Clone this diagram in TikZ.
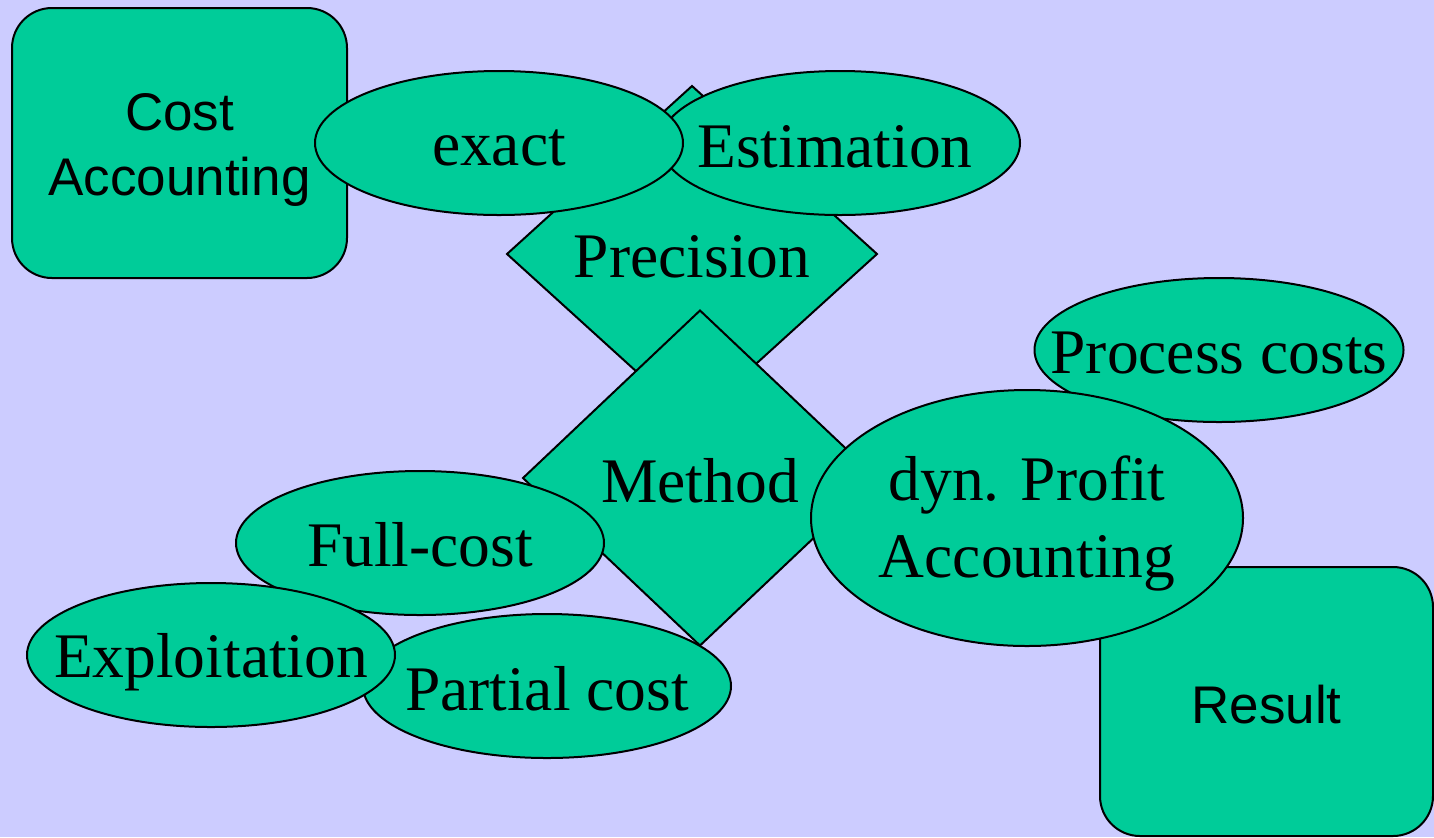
\documentclass[tikz,border=0pt]{standalone}
\usepackage{fontspec}
\setmainfont{Liberation Serif}
\setsansfont{Liberation Sans}
\usetikzlibrary{shapes.geometric}
\definecolor{bgc}{HTML}{CCCCFF}
\definecolor{grn}{HTML}{00CC99}
\newcommand{\T}[2][-2.5pt]{\makebox[0pt]{\raisebox{#1}[\height][\depth]{#2}}}
\newcommand{\TT}[3][-2.5pt]{\makebox[0pt]{\raisebox{#1}[\height][\depth]{\begin{tabular}{@{}c@{}}#2\\#3\end{tabular}}}}
\begin{document}
\begin{tikzpicture}[x=0.5pt,y=-0.5pt,
  base/.style={draw=black, fill=grn, line width=1pt, inner sep=0pt, outer sep=0pt, align=center},
  oval/.style={base, ellipse, font=\fontsize{31.75}{38.5}\selectfont},
  dia/.style={base, diamond, font=\fontsize{31.75}{38.5}\selectfont},
  box/.style={base, rectangle, rounded corners=20pt, font=\sffamily\fontsize{26.5}{32.5}\selectfont}]
\fill[bgc] (0,0) rectangle (1434,837);
\useasboundingbox (0,0) rectangle (1434,837);
\node[box, minimum width=167.5pt, minimum height=135pt] (cost) at (179.5,143) {\TT[-3.5pt]{Cost}{Accounting}};
\node[dia, minimum width=185pt, minimum height=168pt] (prec) at (692,254) {\T[-1.5pt]{Precision}};
\node[oval, minimum width=180pt, minimum height=72pt] (est) at (840,143) {\T[-2pt]{\hspace*{-5pt}Estimation}};
\node[oval, minimum width=184pt, minimum height=72pt] (exact) at (499,143) {\T[-2.5pt]{exact}};
\node[dia, minimum width=177pt, minimum height=167.5pt] (meth) at (700,478) {\T[-1.5pt]{Method}};
\node[oval, minimum width=184.5pt, minimum height=72pt] (proc) at (1219,350) {\T[-1.5pt]{Process costs}};
\node[box, minimum width=166.5pt, minimum height=134.5pt] (res) at (1266.5,701.5) {\T[-1.5pt]{Result}};
\node[oval, minimum width=216pt, minimum height=128pt] (dyn) at (1027,518) {\TT[-3pt]{dyn. Profit}{Accounting}};
\node[oval, minimum width=184pt, minimum height=72pt] (full) at (420,543) {\T[-1pt]{Full-cost}};
\node[oval, minimum width=184pt, minimum height=72pt] (part) at (547,686) {\T[-1.5pt]{Partial cost}};
\node[oval, minimum width=184pt, minimum height=72pt] (expl) at (211,655) {\T[-3.5pt]{Exploitation}};
\end{tikzpicture}
\end{document}
